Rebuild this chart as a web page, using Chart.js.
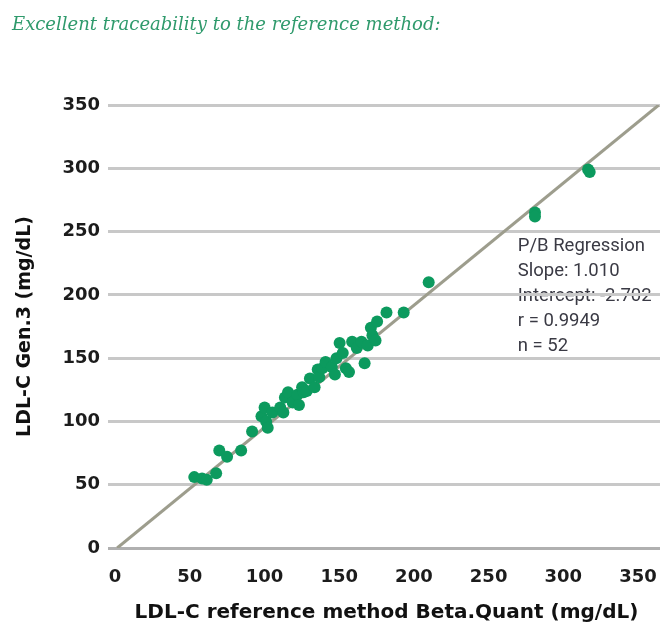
<!DOCTYPE html>
<html>
<head>
<meta charset="utf-8">
<script src="https://cdn.jsdelivr.net/npm/chart.js@4.4.1/dist/chart.umd.min.js"></script>
<style>
  html, body { margin: 0; padding: 0; background: #fff; }
  canvas { display: block; }
</style>
</head>
<body>
<canvas id="chart" width="666" height="635"></canvas>
<script>
// Method comparison: LDL-C Gen.3 vs. the Beta-Quantification reference method (mg/dL)
const refMethod = [
  52, 57, 60, 66, 68, 73, 82, 89, 95, 97,
  98, 99, 102, 107, 109, 110, 112, 115, 118, 119,
  121, 122, 124, 126, 129, 131, 132, 134, 136, 140,
  142, 143, 145, 147, 149, 151, 153, 156, 159, 161,
  163, 165, 166, 168, 169, 175, 186, 202, 270, 270,
  304, 305
];
const gen3 = [
  56, 55, 54, 59, 77, 72, 77, 92, 104, 111,
  100, 95, 107, 111, 107, 119, 123, 115, 121, 113,
  127, 123, 124, 134, 127, 141, 135, 142, 147, 143,
  137, 150, 162, 154, 142, 139, 163, 158, 163, 146,
  160, 174, 168, 164, 179, 186, 186, 210, 265, 262,
  299, 297
];
const axisTicks = [0, 50, 100, 150, 200, 250, 300, 350];

const heading = 'Excellent traceability to the reference method:';
const xTitle = 'LDL-C reference method Beta.Quant (mg/dL)';
const yTitle = 'LDL-C Gen.3 (mg/dL)';

// Passing-Bablok fit
const slope = 1.010;
const intercept = -2.702;
const statsLines = ['P/B Regression', 'Slope: 1.010', 'Intercept: -2.702', 'r = 0.9949', 'n = 52'];

const axisMax = 350;
const points = refMethod.map((x, i) => ({ x: x, y: gen3[i] }));
const fitLine = [
  { x: -intercept / slope, y: 0 },
  { x: (axisMax - intercept) / slope, y: axisMax }
];

const tickFont = { family: '"DejaVu Sans"', size: 18, weight: 'bold' };
const titleFont = { family: '"DejaVu Sans"', size: 20, weight: 'bold' };

// Heading and regression statistics; drawn before the grid so grid lines pass over the box text
const textPlugin = {
  id: 'texts',
  beforeDraw(chart) {
    const { ctx } = chart;
    ctx.save();
    ctx.fillStyle = '#ffffff';
    ctx.fillRect(0, 0, chart.width, chart.height);

    ctx.font = 'italic 18px "DejaVu Serif"';
    ctx.fillStyle = '#2f9a6c';
    ctx.textBaseline = 'alphabetic';
    ctx.textAlign = 'left';
    ctx.fillText(heading, 12, 30);

    const xs = chart.scales.x, ys = chart.scales.y;
    const left = xs.getPixelForValue(259);
    const top = ys.getPixelForValue(238);
    ctx.font = '18.5px Roboto';
    ctx.fillStyle = '#3a3a44';
    ctx.textBaseline = 'middle';
    statsLines.forEach((t, i) => ctx.fillText(t, left, top + i * 25));
    ctx.restore();
  }
};

function noEdgePadding(s) {
  s.paddingLeft = 0;
  s.paddingRight = 0;
  s.paddingTop = 0;
  s.paddingBottom = 0;
}

new Chart(document.getElementById('chart'), {
  type: 'scatter',
  data: {
    datasets: [
      {
        type: 'line',
        label: 'P/B Regression',
        data: fitLine,
        borderColor: '#9d9d8d',
        borderWidth: 3,
        pointRadius: 0,
        fill: false,
        order: 2
      },
      {
        label: 'Samples',
        data: points,
        backgroundColor: '#0c9a5e',
        borderColor: '#0c9a5e',
        borderWidth: 0,
        pointRadius: 6,
        order: 1
      }
    ]
  },
  options: {
    responsive: false,
    devicePixelRatio: 1,
    animation: false,
    layout: { padding: { top: 105, right: 4, bottom: 0, left: 0 } },
    plugins: {
      legend: { display: false },
      tooltip: { enabled: false },
      title: { display: false }
    },
    scales: {
      x: {
        type: 'linear',
        min: 0,
        max: axisMax,
        display: false
      },
      // bottom label axis carrying the tick labels and the axis title
      xl: {
        type: 'linear',
        position: 'bottom',
        min: -1.33,
        max: 364.67,
        afterBuildTicks: s => { s.ticks = axisTicks.map(v => ({ value: v })); },
        afterFit: s => { s.height = 87; noEdgePadding(s); },
        grid: { display: false, drawTicks: false },
        border: { display: false },
        ticks: { font: tickFont, color: '#1c1c1c', padding: 19, maxRotation: 0, autoSkip: false },
        title: { display: true, text: xTitle, font: titleFont, color: '#111111', padding: { top: 0, bottom: 10 } }
      },
      y: {
        type: 'linear',
        min: 0,
        max: axisMax,
        afterBuildTicks: s => { s.ticks = axisTicks.map(v => ({ value: v })); },
        afterFit: s => { s.width = 113; noEdgePadding(s); },
        grid: {
          color: ctx => (ctx.tick && ctx.tick.value === 0 ? '#b0b0b0' : '#c8c8c8'),
          lineWidth: 3,
          drawTicks: true,
          tickLength: 5
        },
        border: { display: false },
        ticks: { font: tickFont, color: '#1c1c1c', padding: 8 },
        title: { display: true, text: yTitle, font: { family: '"DejaVu Sans"', size: 19, weight: 'bold' }, color: '#111111', padding: { top: 14, bottom: 0 } }
      }
    }
  },
  plugins: [textPlugin]
});
</script>
</body>
</html>
